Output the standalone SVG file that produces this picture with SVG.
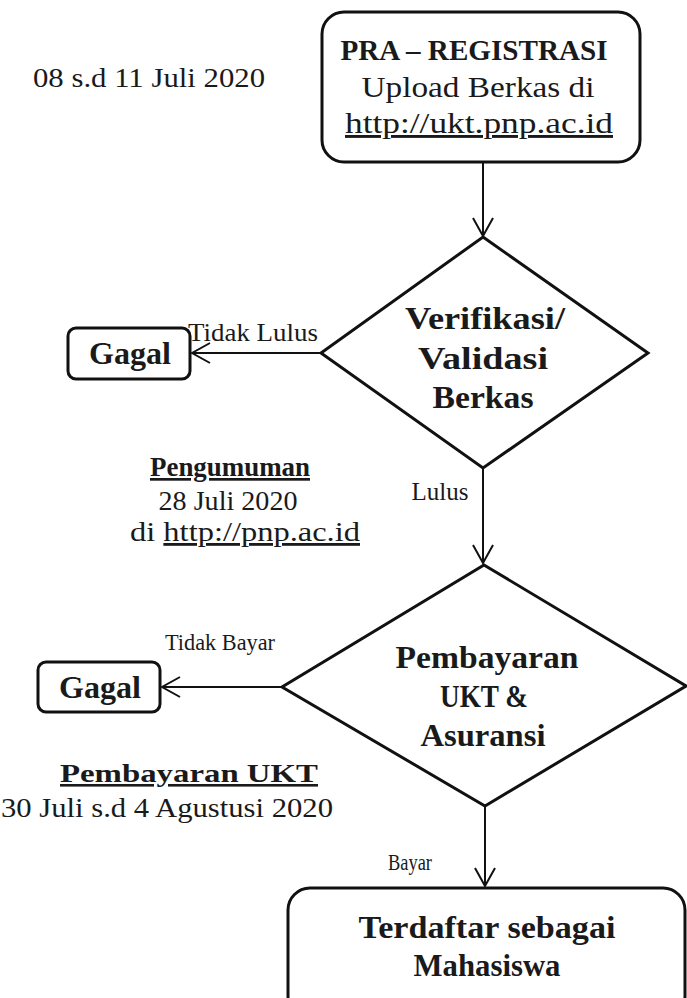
<svg xmlns="http://www.w3.org/2000/svg" width="687" height="998" viewBox="0 0 687 998">
<style>
.shape{fill:#fff;stroke:#111;stroke-width:3}
.conn{fill:none;stroke:#111;stroke-width:2}
text{font-family:"Liberation Serif","DejaVu Serif",serif;fill:#1a1a1a}
.b{font-weight:bold}
.u{text-decoration:underline}
</style>
<defs>
<marker id="arr" markerUnits="userSpaceOnUse" markerWidth="22" markerHeight="24" viewBox="0 0 22 24" refX="20" refY="12" orient="auto">
<path d="M2,2 L20,12 L2,22" fill="none" stroke="#111" stroke-width="2"/>
</marker>
</defs>
<rect width="687" height="998" fill="#fff"/>

<g id="connectors">
<line class="conn" x1="483" y1="163" x2="483" y2="236" marker-end="url(#arr)"/>
<line class="conn" x1="321" y1="353" x2="192" y2="353" marker-end="url(#arr)"/>
<line class="conn" x1="483" y1="468" x2="483" y2="563" marker-end="url(#arr)"/>
<line class="conn" x1="282" y1="687" x2="162" y2="687" marker-end="url(#arr)"/>
<line class="conn" x1="485" y1="807" x2="485" y2="886" marker-end="url(#arr)"/>
<text x="253" y="341" font-size="25" textLength="130" lengthAdjust="spacingAndGlyphs" text-anchor="middle">Tidak Lulus</text>
<text x="440" y="500" font-size="25" textLength="57" lengthAdjust="spacingAndGlyphs" text-anchor="middle">Lulus</text>
<text x="220" y="650" font-size="24" textLength="110" lengthAdjust="spacingAndGlyphs" text-anchor="middle">Tidak Bayar</text>
<text x="410" y="870" font-size="24" textLength="44" lengthAdjust="spacingAndGlyphs" text-anchor="middle">Bayar</text>
</g>

<g id="date-pra">
<text x="149" y="87" font-size="28" textLength="232" lengthAdjust="spacingAndGlyphs" text-anchor="middle">08 s.d 11 Juli 2020</text>
</g>

<g id="pra-registrasi">
<rect class="shape" x="322" y="12" width="318" height="150" rx="22"/>
<text class="b" x="474" y="60" font-size="30" textLength="267" lengthAdjust="spacingAndGlyphs" text-anchor="middle">PRA – REGISTRASI</text>
<text x="478" y="97" font-size="29" textLength="233" lengthAdjust="spacingAndGlyphs" text-anchor="middle">Upload Berkas di</text>
<text class="u" x="479" y="133" font-size="29" textLength="268" lengthAdjust="spacingAndGlyphs" text-anchor="middle">http://ukt.pnp.ac.id</text>
</g>

<g id="verifikasi">
<polygon class="shape" points="483,237 648,353 483,468 321,353"/>
<text class="b" x="485" y="329" font-size="31" textLength="160" lengthAdjust="spacingAndGlyphs" text-anchor="middle">Verifikasi/</text>
<text class="b" x="483" y="369" font-size="31" textLength="130" lengthAdjust="spacingAndGlyphs" text-anchor="middle">Validasi</text>
<text class="b" x="483" y="408" font-size="31" textLength="101" lengthAdjust="spacingAndGlyphs" text-anchor="middle">Berkas</text>
</g>

<g id="gagal-1">
<rect class="shape" x="68" y="328" width="122" height="51" rx="8"/>
<text class="b" x="130" y="364" font-size="31" textLength="82" lengthAdjust="spacingAndGlyphs" text-anchor="middle">Gagal</text>
</g>

<g id="pengumuman">
<text class="b u" x="230" y="476" font-size="27" textLength="160" lengthAdjust="spacingAndGlyphs" text-anchor="middle">Pengumuman</text>
<text x="228" y="510" font-size="28" textLength="139" lengthAdjust="spacingAndGlyphs" text-anchor="middle">28 Juli 2020</text>
<text x="245" y="541" font-size="28" textLength="230" lengthAdjust="spacingAndGlyphs" text-anchor="middle">di <tspan class="u">http://pnp.ac.id</tspan></text>
</g>

<g id="pembayaran">
<polygon class="shape" points="484,565 686,686 485,806 282,687"/>
<text class="b" x="487" y="668" font-size="31" textLength="183" lengthAdjust="spacingAndGlyphs" text-anchor="middle">Pembayaran</text>
<text class="b" x="484" y="707" font-size="31" textLength="88" lengthAdjust="spacingAndGlyphs" text-anchor="middle">UKT &amp;</text>
<text class="b" x="483" y="746" font-size="31" textLength="125" lengthAdjust="spacingAndGlyphs" text-anchor="middle">Asuransi</text>
</g>

<g id="gagal-2">
<rect class="shape" x="38" y="662" width="122" height="50" rx="8"/>
<text class="b" x="100" y="698" font-size="31" textLength="82" lengthAdjust="spacingAndGlyphs" text-anchor="middle">Gagal</text>
</g>

<g id="jadwal-pembayaran">
<text class="b u" x="189" y="782" font-size="26" textLength="258" lengthAdjust="spacingAndGlyphs" text-anchor="middle">Pembayaran UKT</text>
<text x="167" y="817" font-size="28" textLength="332" lengthAdjust="spacingAndGlyphs" text-anchor="middle">30 Juli s.d 4 Agustusi 2020</text>
</g>

<g id="terdaftar">
<rect class="shape" x="288" y="888" width="397" height="130" rx="22"/>
<text class="b" x="487" y="938" font-size="32" textLength="257" lengthAdjust="spacingAndGlyphs" text-anchor="middle">Terdaftar sebagai</text>
<text class="b" x="487" y="976" font-size="32" textLength="147" lengthAdjust="spacingAndGlyphs" text-anchor="middle">Mahasiswa</text>
</g>
</svg>
